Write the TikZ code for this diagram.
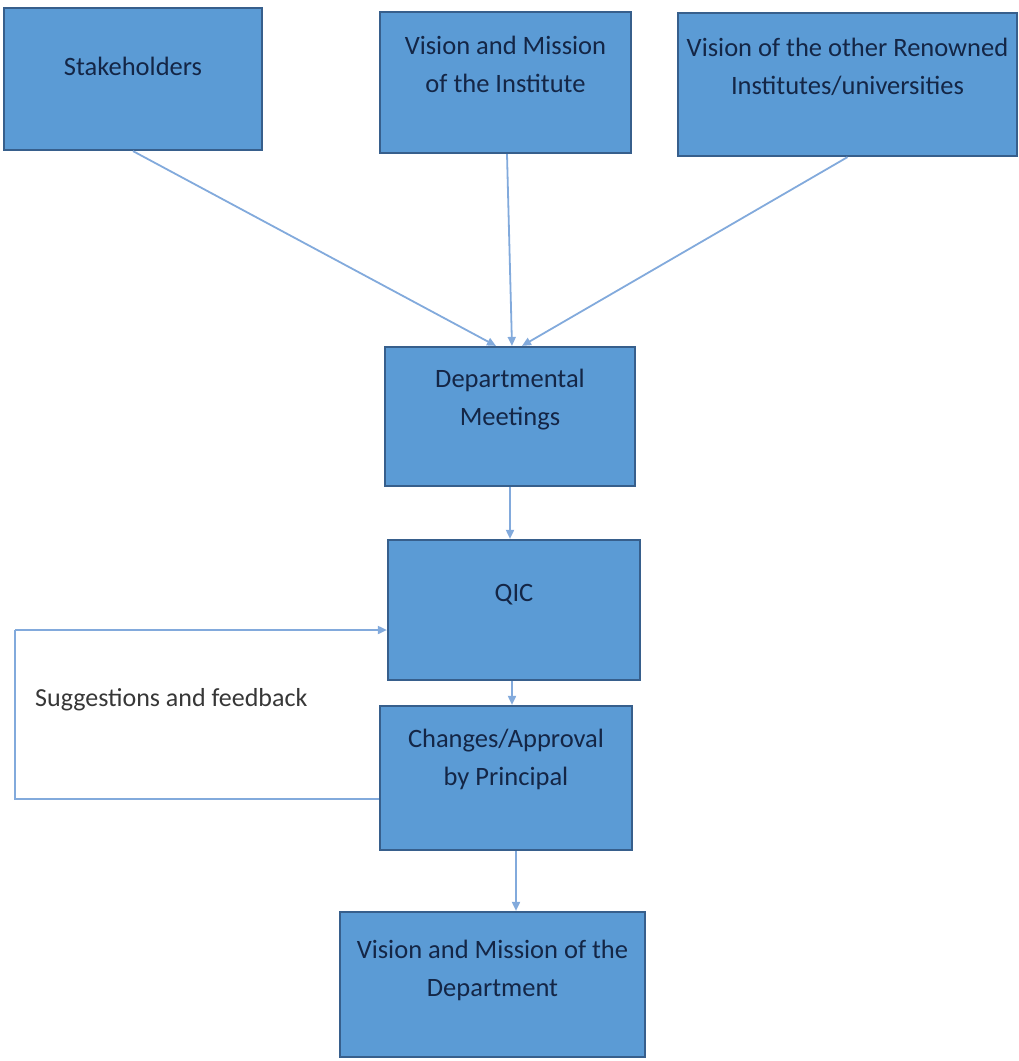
\documentclass[tikz,border=0pt]{standalone}
\usepackage{fontspec}
\setmainfont{Carlito}
\usetikzlibrary{arrows.meta}
\definecolor{boxfill}{RGB}{91,155,213}
\definecolor{boxline}{RGB}{55,95,140}
\definecolor{arr}{RGB}{130,170,220}
\definecolor{txtc}{RGB}{20,38,70}
\definecolor{lblc}{RGB}{55,55,55}
\tikzset{
  box/.style={draw=boxline, line width=2.2pt, fill=boxfill, rectangle, inner sep=0pt},
  boxtext/.style={font=\fontsize{26.5}{38}\selectfont, text=txtc, align=center, inner sep=0pt},
  conn/.style={draw=arr, line width=1.8pt, -{Triangle[length=9pt,width=8pt]}},
  connplain/.style={draw=arr, line width=1.8pt},
}
\begin{document}
\begin{tikzpicture}[x=1pt,y=-1pt]
\useasboundingbox (0,0) rectangle (1019,1061);
% boxes
\node[box, minimum width=258pt, minimum height=142pt] (sh) at (133,79) {};
\node[boxtext] (shT) at (133,66) {Stakeholders};

\node[box, minimum width=251pt, minimum height=141pt] (vmi) at (505.5,82.5) {};
\node[boxtext] (vmiT) at (505.5,64) {Vision and Mission\\of the Institute};

\node[box, minimum width=339pt, minimum height=143pt] (vor) at (847.5,84.5) {};
\node[boxtext] (vorT) at (847.5,67) {Vision of the other Renowned\\Institutes/universities};

\node[box, minimum width=250pt, minimum height=139pt] (dm) at (510,416.5) {};
\node[boxtext] (dmT) at (510,400) {Departmental\\Meetings};

\node[box, minimum width=252pt, minimum height=140pt] (qic) at (514,610) {};
\node[boxtext] (qicT) at (514,595) {QIC};

\node[box, minimum width=252pt, minimum height=144pt] (cap) at (506,778) {};
\node[boxtext] (capT) at (506,759) {Changes/Approval\\by Principal};

\node[box, minimum width=305pt, minimum height=145pt] (vmd) at (492.5,984.5) {};
\node[boxtext] (vmdT) at (492.5,970) {Vision and Mission of the\\Department};

% connectors
\draw[conn] (sh.south) -- ([xshift=-14pt]dm.north);
\draw[conn] ([xshift=1.5pt]vmi.south) -- ([xshift=2pt]dm.north);
\draw[conn] (vor.south) -- ([xshift=12pt]dm.north);
\draw[conn] (dm.south) -- (dm.south |- qic.north);
\draw[conn] ([xshift=-2pt]qic.south) -- ([xshift=-2pt]qic.south |- cap.north);
\draw[conn] ([xshift=10pt]cap.south) -- ([xshift=10pt]cap.south |- vmd.north);

\coordinate (fbA) at (15,799);
\coordinate (fbB) at (15,630);
\draw[connplain] (cap.west |- fbA) -- (fbA) -- (fbB);
\draw[conn] (fbB) -- (qic.west |- fbB);
\node[font=\fontsize{26}{32}\selectfont, text=lblc, anchor=west, inner sep=0pt] (fbl) at (35,700) {Suggestions and feedback};
\end{tikzpicture}
\end{document}
